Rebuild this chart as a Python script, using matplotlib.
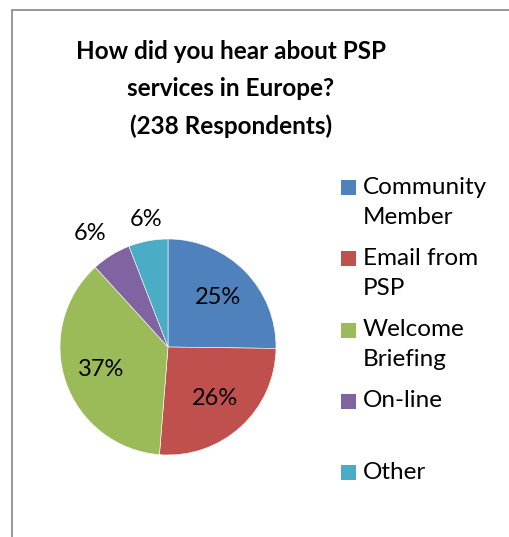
import matplotlib.pyplot as plt
from matplotlib.patches import Rectangle
import numpy as np

# survey answers (238 respondents)
categories = ["Community\nMember", "Email from\nPSP", "Welcome\nBriefing", "On-line", "Other"]
counts = [60, 62, 88, 14, 14]
colors = ["#4F81BD", "#C0504D", "#9BBB59", "#8064A2", "#4BACC6"]
title = "How did you hear about PSP\nservices in Europe?\n(238 Respondents)"

W, H = 509, 537
plt.rcParams['font.family'] = ['Lato', 'DejaVu Sans']

fig = plt.figure(figsize=(W / 100, H / 100), dpi=100)

def px(x, y):
    """pixel position (from top-left) -> figure fraction"""
    return x / W, 1 - y / H

# chart frame (runs past right and bottom edge)
fig.patches.append(Rectangle(px(11.5, 600), 2, 590 / H, transform=fig.transFigure,
                             fill=False, edgecolor='#868686', linewidth=1.2))

fig.text(*px(231, 89), title, ha='center', va='center', fontsize=17.5,
         fontweight='bold', linespacing=1.75)

# pie: centre (168, 347), radius 108 px
cx, cy, r = 168, 347, 108
ax = fig.add_axes([(cx - r) / W, (H - cy - r) / H, 2 * r / W, 2 * r / H])
wedges, _, autotexts = ax.pie(counts, colors=colors, startangle=90, counterclock=False,
                              autopct=lambda p: f"{p:.0f}%", pctdistance=0.65,
                              wedgeprops=dict(edgecolor='white', linewidth=0.4),
                              textprops=dict(fontsize=17))
ax.set_xlim(-1, 1)
ax.set_ylim(-1, 1)
ax.set_aspect('equal')
ax.axis('off')

# small slices get their labels outside the pie: (radius, angle shift in deg)
outside = {3: (1.28, 2.7), 4: (1.2, -1.0)}
for i, (w, t) in enumerate(zip(wedges, autotexts)):
    if i in outside:
        rad, shift = outside[i]
        ang = np.radians((w.theta1 + w.theta2) / 2 + shift)
        t.set_position((rad * np.cos(ang), rad * np.sin(ang)))
        t.set_ha('center')
        t.set_va('center')
        t.set_clip_on(False)

# legend, one entry every 71 px
for i, (lab, col) in enumerate(zip(categories, colors)):
    y0 = 187.5 + 71.3 * i
    fig.patches.append(Rectangle(px(341, y0 + 7.5), 15 / W, 15 / H, transform=fig.transFigure,
                                 facecolor=col, edgecolor='none'))
    fig.text(*px(363, y0 - 11), lab, ha='left', va='top', fontsize=17.5, linespacing=1.55)

fig.savefig("out.png", dpi=100, facecolor='white')
